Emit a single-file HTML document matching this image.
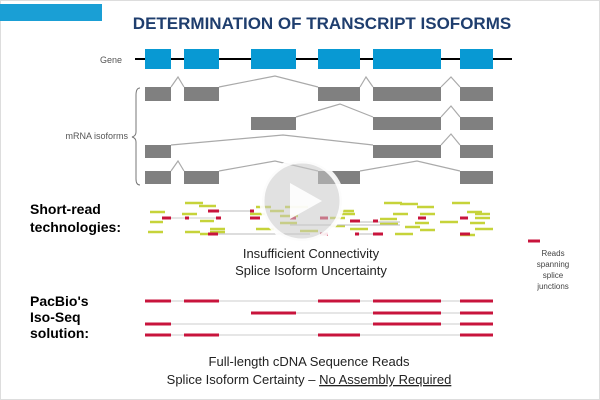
<!DOCTYPE html>
<html><head><style>
body{margin:0;width:600px;height:400px;overflow:hidden;background:#fff;font-family:"Liberation Sans",sans-serif}
.b{position:absolute;border:1px solid #ddd;left:0;top:0;width:598px;height:398px}
</style></head><body>
<div class="b"></div>
<div style="position:absolute;left:0;top:4px;width:102px;height:17px;background:#1a9fd5"></div>
<svg width="600" height="400" style="position:absolute;left:0;top:0" font-family="Liberation Sans, sans-serif">
<text x="322" y="29" text-anchor="middle" font-size="17" font-weight="bold" fill="#1f3e6e">DETERMINATION OF TRANSCRIPT ISOFORMS</text>
<text x="122" y="63" text-anchor="end" font-size="9" fill="#555">Gene</text>
<line x1="135" y1="59" x2="512" y2="59" stroke="#000" stroke-width="2"/>
<g fill="#0899d3">
<rect x="145" y="49" width="26" height="20"/><rect x="184" y="49" width="35" height="20"/><rect x="251" y="49" width="45" height="20"/><rect x="318" y="49" width="42" height="20"/><rect x="373" y="49" width="68" height="20"/><rect x="460" y="49" width="33" height="20"/>
</g>
<text x="128" y="139" text-anchor="end" font-size="9" fill="#555">mRNA isoforms</text>
<path d="M140 88 Q136 88 136 95 L136 132 Q136 136 132 137 Q136 138 136 142 L136 179 Q136 185 140 185" fill="none" stroke="#777" stroke-width="1"/>
<g fill="#808080">
<rect x="145" y="87" width="26" height="14"/><rect x="184" y="87" width="35" height="14"/><rect x="318" y="87" width="42" height="14"/><rect x="373" y="87" width="68" height="14"/><rect x="460" y="87" width="33" height="14"/>
<rect x="251" y="117" width="45" height="13"/><rect x="373" y="117" width="68" height="13"/><rect x="460" y="117" width="33" height="13"/>
<rect x="145" y="145" width="26" height="13"/><rect x="373" y="145" width="68" height="13"/><rect x="460" y="145" width="33" height="13"/>
<rect x="145" y="171" width="26" height="13"/><rect x="184" y="171" width="35" height="13"/><rect x="318" y="171" width="42" height="13"/><rect x="460" y="171" width="33" height="13"/>
</g>
<g fill="none" stroke="#aaa" stroke-width="1.2">
<path d="M171 87 L178 77 L184 87 M219 87 L275 76 L318 87 M360 87 L366 77 L373 87 M441 87 L451 77 L460 87"/>
<path d="M296 117 L340 104 L373 117 M441 117 L451 106 L460 117"/>
<path d="M171 145 L283 135 L373 145 M441 145 L451 134 L460 145"/>
<path d="M171 171 L178 161 L184 171 M219 171 L275 161 L318 171 M360 171 L417 161 L460 171"/>
</g>
<g font-size="14" font-weight="bold" fill="#000">
<text x="30" y="214">Short-read</text><text x="30" y="232">technologies:</text>
<text x="30" y="306">PacBio's</text><text x="30" y="322">Iso-Seq</text><text x="30" y="338">solution:</text>
</g>
<g stroke="#c6d33a" stroke-width="2.5">
<path d="M185 203h18M384 203h18M400 204h18M452 203h18M199 206h17M256 207h15M285 207h18M290 207h18M417 207h17M270 211h14M340 211h14M150 212h15M182 214h15M250 214h15M280 216h18M340 214h15M393 214h15M420 214h15M475 214h15M330 218h15M475 218h15M380 219h17M467 212h15M150 222h13M200 221h14M380 224h18M440 222h18M280 223h17M415 223h14M470 223h15M405 227h15M330 226h15M475 229h18M148 232h15M185 232h15M210 229h15M256 229h18M300 231h18M350 229h18M420 230h15M395 234h18M200 234h15M210 232h15M460 235h15"/>
</g>
<g stroke="#bbb" stroke-width="1"><path d="M218 211H250M218 234H310M358 222H400M290 225H400M357 234H380"/></g>
<g stroke="#c8143c" stroke-width="3">
<path d="M208 211h11M250 211h4M162 218h9M185 218h4M216 218h5M250 218h10M290 218h6M320 218h8M350 221h10M373 221h5M418 218h8M460 218h8M208 234h10M320 234h8M355 234h4M373 234h10M460 234h10"/>
<path d="M528 241h12"/>
</g>
<g stroke="#ccc" stroke-width="1"><path d="M171 218H185M189 218H216"/></g>
<text x="311" y="258" text-anchor="middle" font-size="13" fill="#222">Insufficient Connectivity</text>
<text x="311" y="275" text-anchor="middle" font-size="13" fill="#222">Splice Isoform Uncertainty</text>
<g font-size="8" fill="#444" text-anchor="middle"><text x="553" y="256">Reads</text><text x="553" y="267">spanning</text><text x="553" y="278">splice</text><text x="553" y="289">junctions</text></g>
<g stroke="#ddd" stroke-width="1.5">
<path d="M145 301H493M251 313H493M145 324H493M145 335H493"/>
</g>
<g stroke="#c8143c" stroke-width="3">
<path d="M145 301h26M184 301h35M318 301h42M373 301h68M460 301h33"/>
<path d="M251 313h45M373 313h68M460 313h33"/>
<path d="M145 324h26M373 324h68M460 324h33"/>
<path d="M145 335h26M184 335h35M318 335h42M460 335h33"/>
</g>
<text x="309" y="366" text-anchor="middle" font-size="13" fill="#222">Full-length cDNA Sequence Reads</text>
<text x="309" y="384" text-anchor="middle" font-size="13" fill="#222">Splice Isoform Certainty – <tspan text-decoration="underline">No Assembly Required</tspan></text>
<circle cx="302" cy="201" r="40" fill="rgba(200,200,200,0.55)" stroke="rgba(255,255,255,0.9)" stroke-width="5"/>
<polygon points="290,183 290,219 322,201" fill="rgba(255,255,255,0.9)"/>
</svg>
</body></html>
